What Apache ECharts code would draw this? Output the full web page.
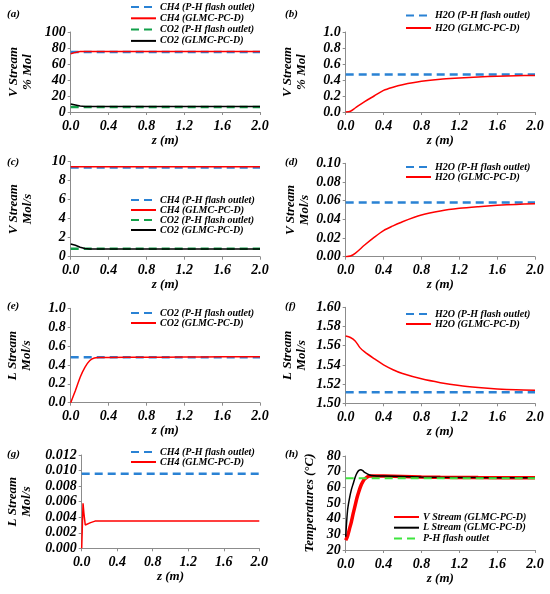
<!DOCTYPE html>
<html>
<head>
<meta charset="utf-8">
<script src="https://cdn.jsdelivr.net/npm/echarts@6/dist/echarts.min.js"></script>
<style>
html,body{margin:0;padding:0;background:#fff;}
#chart{width:550px;height:594px;}
</style>
</head>
<body>
<div id="chart"></div>
<script>
// ---------- data ----------
const zEnds = [0, 2.0];
const xTicks = [0, 0.4, 0.8, 1.2, 1.6, 2.0];

// (a) V stream % mol
const zA = [0, 0.05, 0.1, 0.15, 0.2, 0.4, 0.8, 1.2, 1.6, 2.0];
const ch4FlashA = [74.9, 74.9];
const ch4GlmcA = [72.8, 74.5, 75.5, 75.7, 75.7, 75.7, 75.7, 75.7, 75.7, 75.7];
const co2FlashA = [6.2, 6.2];
const co2GlmcA = [10.0, 8.8, 7.5, 6.9, 6.8, 6.8, 6.8, 6.8, 6.8, 6.8];

// (b) V stream % mol H2O
const zB = [0, 0.05, 0.1, 0.2, 0.3, 0.4, 0.5, 0.6, 0.8, 1.0, 1.2, 1.4, 1.6, 1.8, 2.0];
const h2oFlashB = [0.47, 0.47];
const h2oGlmcB = [0, 0.01, 0.05, 0.13, 0.20, 0.27, 0.31, 0.34, 0.383, 0.41, 0.425, 0.438, 0.447, 0.453, 0.457];

// (c) V stream mol/s
const zC = [0, 0.05, 0.1, 0.15, 0.2, 0.4, 0.8, 1.2, 1.6, 2.0];
const ch4FlashC = [9.4, 9.4];
const ch4GlmcC = [9.46, 9.47, 9.47, 9.47, 9.47, 9.47, 9.47, 9.47, 9.47, 9.47];
const co2FlashC = [0.85, 0.85];
const co2GlmcC = [1.33, 1.2, 1.0, 0.86, 0.8, 0.8, 0.8, 0.8, 0.8, 0.8];

// (d) V stream mol/s H2O
const zD = [0, 0.05, 0.1, 0.2, 0.3, 0.4, 0.5, 0.6, 0.8, 1.0, 1.2, 1.4, 1.6, 1.8, 2.0];
const h2oFlashD = [0.058, 0.058];
const h2oGlmcD = [0, 0.0007, 0.0036, 0.0125, 0.0207, 0.028, 0.033, 0.0375, 0.0446, 0.049, 0.0518, 0.0536, 0.055, 0.056, 0.0568];

// (e) L stream mol/s CO2
const zE = [0, 0.05, 0.1, 0.15, 0.2, 0.25, 0.3, 0.4, 0.8, 1.2, 1.6, 2.0];
const co2FlashE = [0.481, 0.481];
const co2GlmcE = [0, 0.13, 0.27, 0.375, 0.445, 0.473, 0.478, 0.48, 0.481, 0.484, 0.486, 0.487];

// (f) L stream mol/s H2O
const zF = [0, 0.05, 0.1, 0.15, 0.2, 0.3, 0.4, 0.5, 0.6, 0.8, 1.0, 1.2, 1.4, 1.6, 1.8, 2.0];
const h2oFlashF = [1.5115, 1.5115];
const h2oGlmcF = [1.570, 1.5685, 1.565, 1.558, 1.5535, 1.5465, 1.540, 1.535, 1.531, 1.5255, 1.5215, 1.5185, 1.5165, 1.515, 1.514, 1.5135];

// (g) L stream mol/s CH4
const zG = [0, 0.015, 0.025, 0.04, 0.06, 0.1, 0.15, 0.2, 0.6, 1.0, 1.4, 2.0];
const ch4FlashG = [0.0096, 0.0096];
const ch4GlmcG = [0, 0.0058, 0.0045, 0.003, 0.0031, 0.0033, 0.0035, 0.0035, 0.0035, 0.0035, 0.0035, 0.0035];

// (h) temperatures
const zH = [0, 0.02, 0.04, 0.06, 0.08, 0.1, 0.12, 0.14, 0.16, 0.18, 0.2, 0.25, 0.3, 0.4, 0.6, 0.8, 1.0, 1.4, 2.0];
const vTempH = [26.2, 29, 33.5, 38, 43.5, 48.5, 53.5, 57.5, 61, 63.5, 65.3, 67.2, 67.3, 67.2, 66.9, 66.6, 66.4, 66.2, 66.1];
const lTempH = [28.5, 45.5, 53, 58.5, 62.5, 66.5, 69.3, 70.8, 71.2, 70.6, 69.5, 67.9, 67.4, 67.2, 66.9, 66.6, 66.4, 66.2, 66.1];
const flashTempH = [65.8, 65.8];

const panelLabels = ['(a)', '(b)', '(c)', '(d)', '(e)', '(f)', '(g)', '(h)'];
const yNames = ['V Stream\n% Mol', 'V Stream\n% Mol', 'V Stream\nMol/s', 'V Stream\nMol/s',
                'L Stream\nMol/s', 'L Stream\nMol/s', 'L Stream\nMol/s', 'Temperatures (°C)'];
const yMin = [0, 0, 0, 0, 0, 1.5, 0, 20];
const yMax = [100, 1.0, 10, 0.10, 1.0, 1.6, 0.012, 80];
const yStep = [20, 0.2, 2, 0.02, 0.2, 0.02, 0.002, 10];
const yDec = [0, 1, 0, 2, 1, 2, 3, 0];

// ---------- layout / style ----------
const FONT = 'Liberation Serif';
const BLUE = '#2a82d4', RED = '#ff0000', GREEN = '#12a04a', LGREEN = '#3ee63e', BLACK = '#000000';
const grids = [
  {left: 70.7, top: 32, width: 189.3, height: 80},
  {left: 345.7, top: 32, width: 189.3, height: 80},
  {left: 70.7, top: 161.7, width: 189.3, height: 95},
  {left: 345.7, top: 163.3, width: 189.3, height: 93.4},
  {left: 70.7, top: 308.3, width: 189.3, height: 94.4},
  {left: 345.7, top: 307.3, width: 189.3, height: 96},
  {left: 81.7, top: 455, width: 177.6, height: 93.3},
  {left: 345.7, top: 456, width: 189.3, height: 94}
];
const yNameGap = [36, 37, 36, 34, 37, 37, 48, 29];
const titlePos = [[7, 9], [285, 9], [7, 157], [285, 157], [7, 301], [285, 301], [7, 449], [285, 449]];

function pairs(xs, ys) { return xs.map((x, i) => [x, ys[i]]); }
function line(name, xs, ys, idx, color, width, dash, smooth) {
  return {
    type: 'line', name: name, xAxisIndex: idx, yAxisIndex: idx,
    data: pairs(xs, ys), symbol: 'none', smooth: smooth || false,
    lineStyle: {color: color, width: width, type: dash ? [8, 5] : 'solid', cap: 'butt'},
    itemStyle: {color: color}
  };
}

const series = [
  line('CH4 (P-H flash outlet)', zEnds, ch4FlashA, 0, BLUE, 2.5, true),
  line('CH4 (GLMC-PC-D)', zA, ch4GlmcA, 0, RED, 1.5),
  line('CO2 (P-H flash outlet)', zEnds, co2FlashA, 0, GREEN, 2.5, true),
  line('CO2 (GLMC-PC-D)', zA, co2GlmcA, 0, BLACK, 1.5),

  line('H2O (P-H flash outlet)', zEnds, h2oFlashB, 1, BLUE, 2.5, true),
  line('H2O (GLMC-PC-D)', zB, h2oGlmcB, 1, RED, 1.5, false, 0.3),

  line('CH4 (P-H flash outlet)', zEnds, ch4FlashC, 2, BLUE, 2.5, true),
  line('CH4 (GLMC-PC-D)', zC, ch4GlmcC, 2, RED, 1.5),
  line('CO2 (P-H flash outlet)', zEnds, co2FlashC, 2, GREEN, 2.5, true),
  line('CO2 (GLMC-PC-D)', zC, co2GlmcC, 2, BLACK, 1.5),

  line('H2O (P-H flash outlet)', zEnds, h2oFlashD, 3, BLUE, 2.5, true),
  line('H2O (GLMC-PC-D)', zD, h2oGlmcD, 3, RED, 1.5, false, 0.3),

  line('CO2 (P-H flash outlet) ', zEnds, co2FlashE, 4, BLUE, 2.5, true),
  line('CO2 (GLMC-PC-D) ', zE, co2GlmcE, 4, RED, 1.5, false, 0.2),

  line('H2O (P-H flash outlet)', zEnds, h2oFlashF, 5, BLUE, 2.5, true),
  line('H2O (GLMC-PC-D)', zF, h2oGlmcF, 5, RED, 1.5, false, 0.3),

  line('CH4 (P-H flash outlet)', zEnds, ch4FlashG, 6, BLUE, 2.5, true),
  line('CH4 (GLMC-PC-D)', zG, ch4GlmcG, 6, RED, 1.5),

  line('V Stream (GLMC-PC-D)', zH, vTempH, 7, RED, 3.5, false, 0.3),
  line('L Stream (GLMC-PC-D)', zH, lTempH, 7, BLACK, 1.5, false, 0.3),
  line('P-H flash outlet', zEnds, flashTempH, 7, LGREEN, 2, true)
];

const textBase = {fontFamily: FONT, fontWeight: 'bold', fontStyle: 'italic', color: '#000'};

function legend(names, left, top, gap) {
  return {
    data: names, left: left, top: top, orient: 'vertical', padding: 0,
    itemGap: gap, itemWidth: 25, itemHeight: 10, selectedMode: false,
    itemStyle: {opacity: 0},
    textStyle: Object.assign({}, textBase, {fontSize: 10, lineHeight: 10, padding: [0, 0, 0, -1]})
  };
}

const legends = [
  legend(['CH4 (P-H flash outlet)', 'CH4 (GLMC-PC-D)', 'CO2 (P-H flash outlet)', 'CO2 (GLMC-PC-D)'], 130, 2, 1.3),
  legend(['H2O (P-H flash outlet)', 'H2O (GLMC-PC-D)'], 405, 10.5, 2.5),
  legend(['CH4 (P-H flash outlet)', 'CH4 (GLMC-PC-D)', 'CO2 (P-H flash outlet)', 'CO2 (GLMC-PC-D)'], 130, 195, 0),
  legend(['H2O (P-H flash outlet)', 'H2O (GLMC-PC-D)'], 405, 162, 0),
  legend(['CO2 (P-H flash outlet) ', 'CO2 (GLMC-PC-D) '], 130, 308, 0),
  legend(['H2O (P-H flash outlet)', 'H2O (GLMC-PC-D)'], 405, 309, 0),
  legend(['CH4 (P-H flash outlet)', 'CH4 (GLMC-PC-D)'], 130, 447, 0),
  legend(['V Stream (GLMC-PC-D)', 'L Stream (GLMC-PC-D)', 'P-H flash outlet'], 393, 512, 0.7)
];

const axisLine = {show: true, lineStyle: {color: '#8c8c8c', width: 1}};
const axisTick = {show: true, length: 3, inside: false, lineStyle: {color: '#8c8c8c'}};

const xAxes = grids.map((g, i) => ({
  type: 'value', gridIndex: i, min: 0, max: 2.0, interval: 0.4,
  axisLine: axisLine, axisTick: axisTick, splitLine: {show: false},
  axisLabel: Object.assign({}, textBase, {fontSize: 14, margin: 7, formatter: v => v.toFixed(1)}),
  name: 'z (m)', nameLocation: 'middle', nameGap: 20,
  nameTextStyle: Object.assign({}, textBase, {fontSize: 13})
}));

const yAxes = grids.map((g, i) => ({
  type: 'value', gridIndex: i, min: yMin[i], max: yMax[i], interval: yStep[i],
  axisLine: axisLine, axisTick: axisTick, splitLine: {show: false},
  axisLabel: Object.assign({}, textBase, {fontSize: 14, margin: 5, formatter: v => v.toFixed(yDec[i])}),
  name: yNames[i], nameLocation: 'middle', nameRotate: 90, nameGap: yNameGap[i],
  nameTextStyle: Object.assign({}, textBase, {fontSize: 13, lineHeight: 14})
}));

const titles = panelLabels.map((t, i) => ({
  text: t, left: titlePos[i][0], top: titlePos[i][1], padding: 0,
  textStyle: Object.assign({}, textBase, {fontSize: 11})
}));

const chart = echarts.init(document.getElementById('chart'), null, {renderer: 'canvas'});
chart.setOption({
  animation: false,
  backgroundColor: '#fff',
  title: titles,
  grid: grids.map(g => Object.assign({containLabel: false, outerBoundsMode: 'none'}, g)),
  xAxis: xAxes,
  yAxis: yAxes,
  legend: legends,
  series: series
});
</script>
</body>
</html>
